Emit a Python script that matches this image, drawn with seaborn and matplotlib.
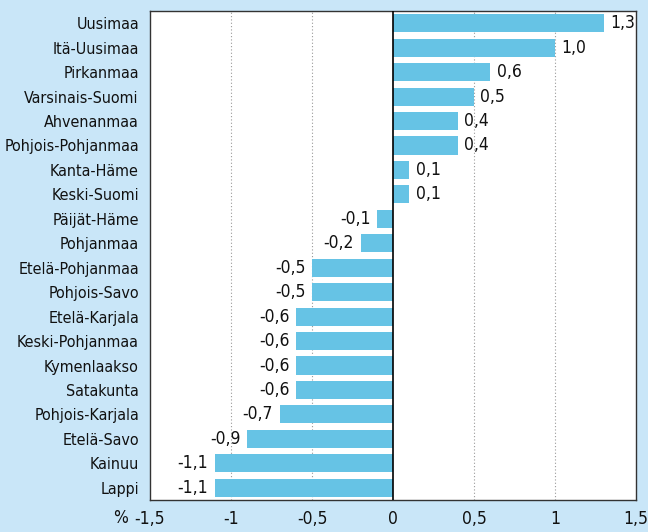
import matplotlib
matplotlib.use("Agg")
import matplotlib.pyplot as plt
import pandas as pd
import seaborn as sns

regions = [
    "Uusimaa", "Itä-Uusimaa", "Pirkanmaa", "Varsinais-Suomi", "Ahvenanmaa",
    "Pohjois-Pohjanmaa", "Kanta-Häme", "Keski-Suomi", "Päijät-Häme", "Pohjanmaa",
    "Etelä-Pohjanmaa", "Pohjois-Savo", "Etelä-Karjala", "Keski-Pohjanmaa",
    "Kymenlaakso", "Satakunta", "Pohjois-Karjala", "Etelä-Savo", "Kainuu", "Lappi",
]
change = [
    1.3, 1.0, 0.6, 0.5, 0.4,
    0.4, 0.1, 0.1, -0.1, -0.2,
    -0.5, -0.5, -0.6, -0.6,
    -0.6, -0.6, -0.7, -0.9, -1.1, -1.1,
]
xticks = [-1.5, -1, -0.5, 0, 0.5, 1, 1.5]

BG = "#c9e6f8"
BAR = "#66c3e5"
FS = 11.5

sns.set_theme(style="white")
plt.rcParams["font.family"] = ["Liberation Sans Narrow", "DejaVu Sans"]
plt.rcParams["font.stretch"] = "condensed"

df = pd.DataFrame({"region": regions, "change": change})

fig = plt.figure(figsize=(6.48, 5.32), dpi=100, facecolor=BG)
ax = fig.add_axes([150 / 648, 32 / 532, 486 / 648, 489 / 532])
ax.set_facecolor("white")

sns.barplot(data=df, x="change", y="region", orient="h", color=BAR,
            saturation=1, width=0.74, linewidth=0, ax=ax)

ax.set_xlim(-1.5, 1.5)
ax.set_ylim(len(regions) - 0.5, -0.5)
for v in [-1, -0.5, 0.5, 1]:
    ax.axvline(v, color="#999999", linestyle=(0, (1, 2)), linewidth=0.8, zorder=0)
ax.axvline(0, color="black", linewidth=1.2, zorder=3)

for i, v in enumerate(change):
    txt = f"{v:.1f}".replace(".", ",")
    if v >= 0:
        ax.text(v + 0.04, i, txt, va="center", ha="left", fontsize=FS + 1, color="#111111")
    else:
        ax.text(v - 0.04, i, txt, va="center", ha="right", fontsize=FS + 1, color="#111111")

ax.set_xticks(xticks)
ax.set_xticklabels([f"{t:g}".replace(".", ",") for t in xticks], fontsize=FS + 1, color="#111111")
ax.set_yticks(range(len(regions)))
ax.set_yticklabels(regions, fontsize=FS, color="#111111")
ax.tick_params(axis="y", length=0, pad=8)
ax.tick_params(axis="x", length=0, pad=7)
ax.set_xlabel("")
ax.set_ylabel("")
ax.text(-0.06, -0.018, "%", transform=ax.transAxes, ha="center", va="top",
        fontsize=FS + 1, color="#111111")

for s in ax.spines.values():
    s.set_color("#333333")
    s.set_linewidth(1)

fig.savefig("out.png", dpi=100, facecolor=BG)
